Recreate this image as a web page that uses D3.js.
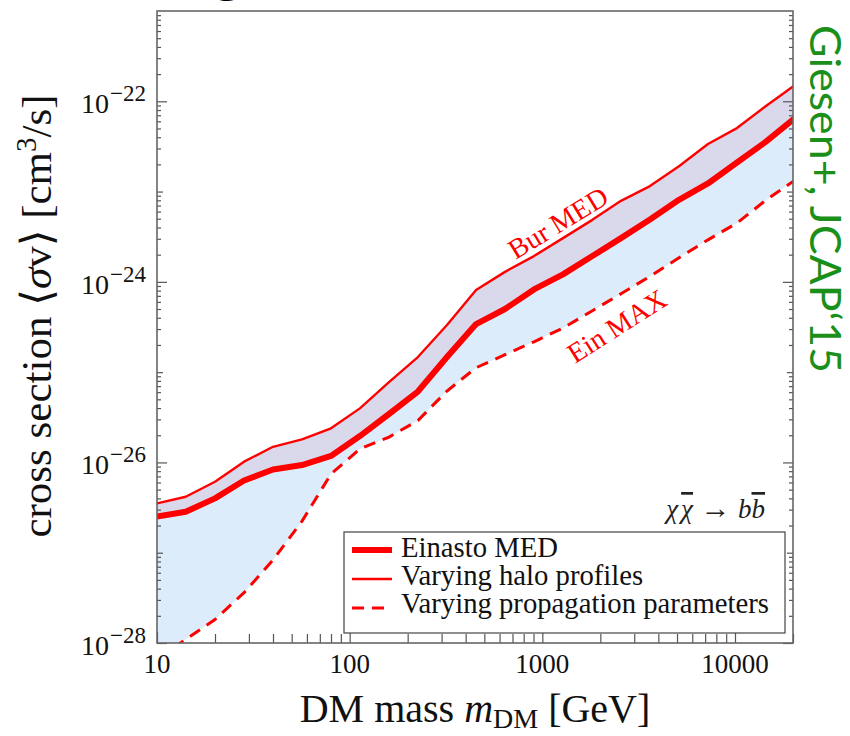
<!DOCTYPE html>
<html><head><meta charset="utf-8">
<script src="https://cdn.jsdelivr.net/npm/d3@7"></script>
<style>body{margin:0;background:#fff}svg{display:block}</style>
</head><body>
<svg id="c" width="850" height="736"></svg>
<script>
// ---- data ----
const masses = [10, 14.1, 20, 28.3, 40, 56.6, 80, 113, 160, 226, 320, 453, 640, 905, 1280, 1810, 2560, 3620, 5120, 7240, 10240, 14480, 20480];
const einastoMED = [2.51e-27, 2.84e-27, 4.00e-27, 6.31e-27, 8.34e-27, 9.35e-27, 1.18e-26, 1.96e-26, 3.44e-26, 6.10e-26, 1.47e-25, 3.41e-25, 5.00e-25, 8.24e-25, 1.21e-24, 1.92e-24, 3.05e-24, 4.90e-24, 8.11e-24, 1.23e-23, 2.10e-23, 3.57e-23, 6.52e-23];
const haloUpper = [3.52e-27, 4.17e-27, 6.11e-27, 1.02e-26, 1.49e-26, 1.80e-26, 2.39e-26, 3.97e-26, 7.76e-26, 1.47e-25, 3.33e-25, 8.11e-25, 1.29e-24, 1.93e-24, 3.05e-24, 4.83e-24, 7.89e-24, 1.15e-23, 1.91e-23, 3.36e-23, 5.05e-23, 8.85e-23, 1.51e-22];
const propLower = [6.65e-29, 1.10e-28, 1.82e-28, 3.61e-28, 8.30e-28, 2.24e-27, 7.45e-27, 1.41e-26, 1.91e-26, 2.91e-26, 6.18e-26, 1.12e-25, 1.56e-25, 2.17e-25, 3.08e-25, 4.76e-25, 7.39e-25, 1.15e-24, 1.85e-24, 2.92e-24, 4.48e-24, 8.04e-24, 1.34e-23];
const xTickValues = [10, 100, 1000, 10000];
const xTickLabels = ["10", "100", "1000", "10000"];
const yTickExponents = [-28, -26, -24, -22];
const legendLabels = ["Einasto MED", "Varying halo profiles", "Varying propagation parameters"];
const curveLabels = ["Bur MED", "Ein MAX"];
const creditText = "Giesen+, JCAP\u201815";

// ---- layout ----
const L = 157, R = 793, T = 11, B = 643;
const serif = "'Liberation Serif','DejaVu Serif',serif";
const RED = "#ff0000";
const svg = d3.select("#c");
const x = d3.scaleLog().domain([10, 20000]).range([L, R]);
const y = d3.scaleLog().domain([1e-28, 1e-21]).range([B, T]);

svg.append("defs").append("clipPath").attr("id", "plot")
  .append("rect").attr("x", L).attr("y", T).attr("width", R - L).attr("height", B - T);

// partially visible title glyph at the very top (cut off in the reference too)
svg.append("text").attr("x", 229).attr("y", -8).attr("text-anchor", "middle")
  .style("font-family", "'DejaVu Sans',sans-serif").style("font-weight", "bold").style("font-size", "44px")
  .attr("fill", "#000").text("g");

const idx = d3.range(masses.length);
const g = svg.append("g").attr("clip-path", "url(#plot)");
g.append("path").datum(idx)
  .attr("d", d3.area().x(i => x(masses[i])).y0(i => y(propLower[i])).y1(i => y(einastoMED[i])))
  .attr("fill", "#ddecfb");
g.append("path").datum(idx)
  .attr("d", d3.area().x(i => x(masses[i])).y0(i => y(einastoMED[i])).y1(i => y(haloUpper[i])))
  .attr("fill", "#dad9ec");
const line = arr => d3.line().x(i => x(masses[i])).y(i => y(arr[i]));
g.append("path").datum(idx).attr("d", line(haloUpper)).attr("fill", "none")
  .attr("stroke", RED).attr("stroke-width", 2.4).attr("stroke-linejoin", "round");
g.append("path").datum(idx).attr("d", line(propLower)).attr("fill", "none")
  .attr("stroke", RED).attr("stroke-width", 3).attr("stroke-dasharray", "12,8");
g.append("path").datum(idx).attr("d", line(einastoMED)).attr("fill", "none")
  .attr("stroke", RED).attr("stroke-width", 6).attr("stroke-linejoin", "round");

// ---- ticks ----
const yMinor = [];
for (let e = -28; e <= -22; e++) for (let k = 2; k <= 9; k++) yMinor.push(k * Math.pow(10, e));
const yOdd = [-27, -25, -23].map(e => Math.pow(10, e));
const yMajor = yTickExponents.map(e => Math.pow(10, e));
const xMinor = [];
for (let e = 1; e <= 4; e++) for (let k = 2; k <= 9; k++) { const v = k * Math.pow(10, e); if (v <= 20000) xMinor.push(v); }

const tickCol = "#555";
function addAxis(axisGen, tr, vals, size) {
  const a = svg.append("g").attr("transform", tr)
    .call(axisGen.tickValues(vals).tickSize(size).tickFormat(""));
  a.select(".domain").remove();
  a.selectAll("line").attr("stroke", tickCol).attr("stroke-width", 1.2);
}
addAxis(d3.axisLeft(y), `translate(${L},0)`, yMajor, -10);
addAxis(d3.axisLeft(y), `translate(${L},0)`, yOdd, -6);
addAxis(d3.axisLeft(y), `translate(${L},0)`, yMinor, -4);
addAxis(d3.axisRight(y), `translate(${R},0)`, yMajor, -10);
addAxis(d3.axisRight(y), `translate(${R},0)`, yOdd, -6);
addAxis(d3.axisRight(y), `translate(${R},0)`, yMinor, -4);
addAxis(d3.axisBottom(x), `translate(0,${B})`, xTickValues, -11);
addAxis(d3.axisBottom(x), `translate(0,${B})`, xMinor, -9);

// frame
svg.append("rect").attr("x", L).attr("y", T).attr("width", R - L).attr("height", B - T)
  .attr("fill", "none").attr("stroke", "#666").attr("stroke-width", 1.6);

// tick labels
svg.selectAll(".xl").data(xTickValues).enter().append("text")
  .attr("x", d => x(d)).attr("y", 673).attr("text-anchor", "middle")
  .style("font-family", serif).style("font-size", "27px").attr("fill", "#111")
  .text((d, i) => xTickLabels[i]);
yTickExponents.forEach(e => {
  const t = svg.append("text").attr("x", 146).attr("y", y(Math.pow(10, e)) + 12)
    .attr("text-anchor", "end").style("font-family", serif).style("font-size", "28px").attr("fill", "#111");
  t.append("tspan").text("10");
  t.append("tspan").attr("dy", -12).attr("dx", 1).style("font-size", "23px").text("\u2212" + Math.abs(e));
});

// axis titles
const xt = svg.append("text").attr("x", 475).attr("y", 722).attr("text-anchor", "middle")
  .style("font-family", serif).style("font-size", "40px").attr("fill", "#111");
xt.append("tspan").text("DM mass ");
xt.append("tspan").style("font-style", "italic").text("m");
xt.append("tspan").attr("dy", 6).style("font-size", "28px").text("DM");
xt.append("tspan").attr("dy", -6).text(" [GeV]");

const yt = svg.append("text").attr("transform", "translate(51,316) rotate(-90)").attr("text-anchor", "middle")
  .style("font-family", serif).style("font-size", "43px").attr("fill", "#111");
yt.append("tspan").text("cross section \u27E8");
yt.append("tspan").style("font-style", "italic").text("\u03C3");
yt.append("tspan").text("v\u27E9 [cm");
yt.append("tspan").attr("dy", -15).style("font-size", "29px").text("3");
yt.append("tspan").attr("dy", 15).text("/s]");

// process label
const pl = svg.append("text").attr("x", 765).attr("y", 518).attr("text-anchor", "end")
  .style("font-family", serif).style("font-size", "27px").attr("fill", "#222");
pl.append("tspan").style("font-style", "italic").text("\u03C7");
pl.append("tspan").attr("dx", 3).style("font-style", "italic").style("text-decoration", "overline").text("\u03C7");
pl.append("tspan").style("font-size", "30px").text(" \u2192 ");
pl.append("tspan").style("font-style", "italic").text("b");
pl.append("tspan").style("font-style", "italic").style("text-decoration", "overline").text("b");

// curve labels
svg.append("text").attr("transform", "translate(563,231) rotate(-31.5)").attr("text-anchor", "middle")
  .style("font-family", serif).style("font-size", "28px").attr("fill", RED).text(curveLabels[0]);
svg.append("text").attr("transform", "translate(622,334) rotate(-32.5)").attr("text-anchor", "middle")
  .style("font-family", serif).style("font-size", "28px").attr("fill", RED).text(curveLabels[1]);

// legend
svg.append("rect").attr("x", 344).attr("y", 532).attr("width", 441).attr("height", 101)
  .attr("fill", "#fff").attr("stroke", "#444").attr("stroke-width", 1.2);
const legStyles = [{w: 6, dash: null}, {w: 2.4, dash: null}, {w: 3, dash: "12,8"}];
const legY = [550, 579, 608];
const legBase = [557, 585, 613];
legendLabels.forEach((lab, i) => {
  svg.append("line").attr("x1", 352).attr("x2", 392).attr("y1", legY[i]).attr("y2", legY[i])
    .attr("stroke", RED).attr("stroke-width", legStyles[i].w)
    .attr("stroke-dasharray", legStyles[i].dash);
  svg.append("text").attr("x", 401).attr("y", legBase[i])
    .style("font-family", serif).style("font-size", "28.7px").attr("fill", "#111").text(lab);
});

// credit
svg.append("text").attr("transform", "translate(810,25) rotate(90)")
  .attr("textLength", 348).attr("lengthAdjust", "spacingAndGlyphs")
  .style("font-family", "Lato,'Open Sans',sans-serif").style("font-size", "43px")
  .attr("fill", "#1a8f1a").text(creditText);
</script>
</body></html>
